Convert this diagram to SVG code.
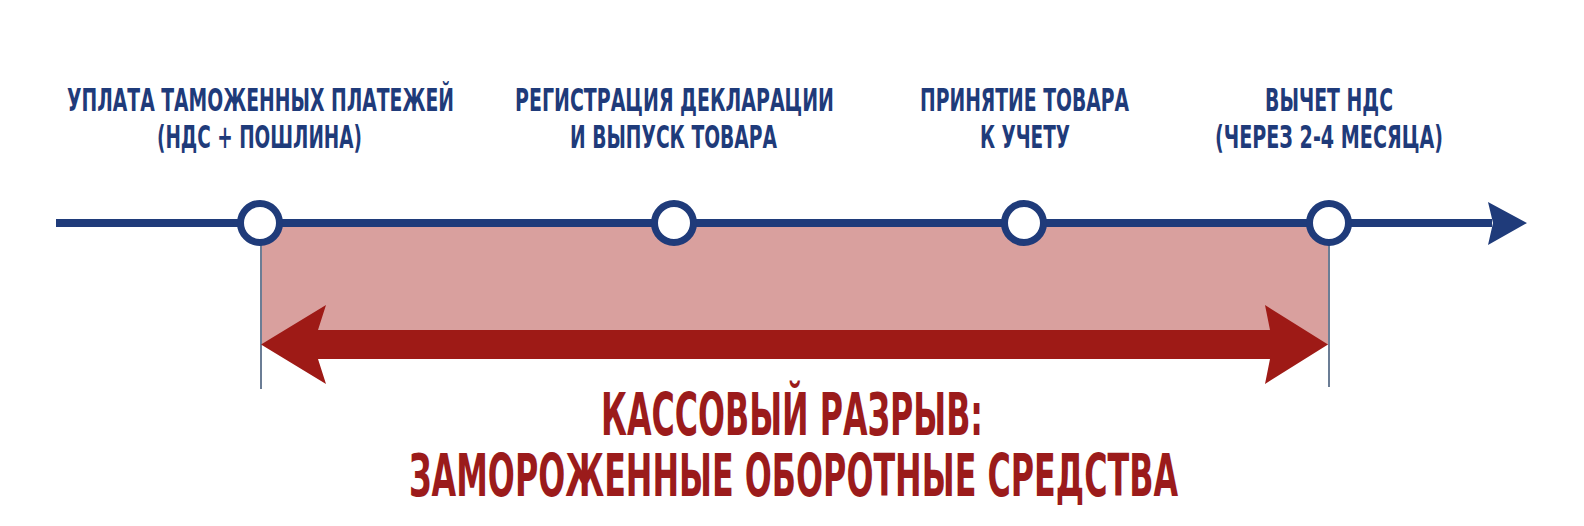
<svg xmlns="http://www.w3.org/2000/svg" width="1584" height="526" viewBox="0 0 1584 526">
<style>
.lbl{font-family:"Liberation Sans Narrow","DejaVu Sans Condensed","Liberation Sans",sans-serif;font-weight:bold;font-stretch:condensed;font-size:32px;fill:#1f3b7a;text-anchor:middle}
.big{font-family:"Liberation Sans Narrow","DejaVu Sans Condensed","Liberation Sans",sans-serif;font-weight:bold;font-stretch:condensed;font-size:58px;fill:#9b1b1b;text-anchor:middle}
.node{fill:#ffffff;stroke:#1f3b7a;stroke-width:7}
.guide{stroke:#6b7d95;stroke-width:2}
</style>
<rect width="1584" height="526" fill="#ffffff"/>
<g id="gap-area">
<rect x="261" y="223" width="1068" height="122" fill="#d9a09e"/>
</g>
<g id="connectors">
<line class="guide" x1="261" y1="232" x2="261" y2="389"/>
<line class="guide" x1="1329" y1="232" x2="1329" y2="387"/>
<line x1="56" y1="223" x2="1492" y2="223" stroke="#1f3b7a" stroke-width="8"/>
<polygon points="1488,202 1527,223 1488,245 1493,223" fill="#1f3b7a"/>
<polygon points="261,344.5 326,305 318,330 1270,330 1265,305 1328,344.5 1265,384 1270,359 318,359 326,384" fill="#9e1a16"/>
</g>
<g id="node-payment">
<circle class="node" cx="260" cy="223" r="19.5"/>
<text class="lbl" x="260.5" y="111" textLength="387" lengthAdjust="spacingAndGlyphs">УПЛАТА ТАМОЖЕННЫХ ПЛАТЕЖЕЙ</text>
<text class="lbl" x="259.5" y="147.5" textLength="205" lengthAdjust="spacingAndGlyphs">(НДС + ПОШЛИНА)</text>
</g>
<g id="node-registration">
<circle class="node" cx="674" cy="223" r="19.5"/>
<text class="lbl" x="674.5" y="111" textLength="319" lengthAdjust="spacingAndGlyphs">РЕГИСТРАЦИЯ ДЕКЛАРАЦИИ</text>
<text class="lbl" x="673.5" y="147.5" textLength="207" lengthAdjust="spacingAndGlyphs">И ВЫПУСК ТОВАРА</text>
</g>
<g id="node-acceptance">
<circle class="node" cx="1024" cy="223" r="19.5"/>
<text class="lbl" x="1024.5" y="111" textLength="209" lengthAdjust="spacingAndGlyphs">ПРИНЯТИЕ ТОВАРА</text>
<text class="lbl" x="1025" y="147.5" textLength="90" lengthAdjust="spacingAndGlyphs">К УЧЕТУ</text>
</g>
<g id="node-deduction">
<circle class="node" cx="1329" cy="223" r="19.5"/>
<text class="lbl" x="1329" y="111" textLength="128" lengthAdjust="spacingAndGlyphs">ВЫЧЕТ НДС</text>
<text class="lbl" x="1329" y="147.5" textLength="228" lengthAdjust="spacingAndGlyphs">(ЧЕРЕЗ 2-4 МЕСЯЦА)</text>
</g>
<g id="gap-label">
<text class="big" x="792" y="435" textLength="382" lengthAdjust="spacingAndGlyphs">КАССОВЫЙ РАЗРЫВ:</text>
<text class="big" x="793.5" y="496" textLength="769" lengthAdjust="spacingAndGlyphs">ЗАМОРОЖЕННЫЕ ОБОРОТНЫЕ СРЕДСТВА</text>
</g>
</svg>
